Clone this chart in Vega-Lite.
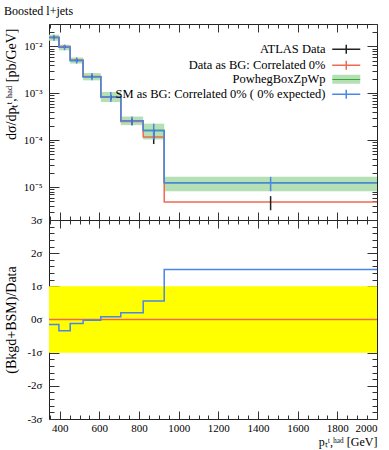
{
  "$schema": "https://vega.github.io/schema/vega-lite/v6.json",
  "padding": {"left": 3, "top": 4, "right": 5, "bottom": 5},
  "config": {
    "view": {"stroke": "#222", "strokeWidth": 1},
    "font": "Liberation Serif",
    "axis": {"domain": false, "grid": false, "tickColor": "#333", "tickWidth": 1, "labelFont": "Liberation Serif", "labelFontSize": 11, "labelColor": "#000", "titleFont": "Liberation Serif", "titleFontSize": 14, "titleFontWeight": "normal", "titleColor": "#000"},
    "title": {"font": "Liberation Serif", "fontSize": 12, "fontWeight": "normal", "color": "#000"}
  },
  "datasets": {
    "bins": [
      {"lo": 346, "hi": 396, "band_lo": 0.0132, "band_hi": 0.0178},
      {"lo": 396, "hi": 453, "band_lo": 0.0083, "band_hi": 0.0109},
      {"lo": 453, "hi": 518, "band_lo": 0.0043, "band_hi": 0.0058},
      {"lo": 518, "hi": 607, "band_lo": 0.00189, "band_hi": 0.0027},
      {"lo": 607, "hi": 708, "band_lo": 0.00065, "band_hi": 0.00107},
      {"lo": 708, "hi": 821, "band_lo": 0.00021, "band_hi": 0.00032},
      {"lo": 821, "hi": 927, "band_lo": 0.000104, "band_hi": 0.000226},
      {"lo": 927, "hi": 2000, "band_lo": 0.0000082, "band_hi": 0.0000166}
    ],
    "steps": [
      {"x": 346, "sm": 0.0155, "data": 0.0157},
      {"x": 396, "sm": 0.0096, "data": 0.0100},
      {"x": 453, "sm": 0.0050, "data": 0.0051},
      {"x": 518, "sm": 0.00226, "data": 0.00227},
      {"x": 607, "sm": 0.00084, "data": 0.00082},
      {"x": 708, "sm": 0.00026, "data": 0.00025},
      {"x": 821, "sm": 0.000161, "data": 0.000117},
      {"x": 927, "sm": 0.0000124, "data": 0.00000486},
      {"x": 2000, "sm": 0.0000124, "data": 0.00000486}
    ],
    "errs": [
      {"series": "ATLAS Data", "x": 371, "y": 0.0157, "lo": 0.0150, "hi": 0.0165},
      {"series": "ATLAS Data", "x": 424.5, "y": 0.0100, "lo": 0.0094, "hi": 0.0106},
      {"series": "ATLAS Data", "x": 485.5, "y": 0.0051, "lo": 0.0047, "hi": 0.0055},
      {"series": "ATLAS Data", "x": 562.5, "y": 0.00227, "lo": 0.00206, "hi": 0.00248},
      {"series": "ATLAS Data", "x": 657.5, "y": 0.00082, "lo": 0.00072, "hi": 0.00092},
      {"series": "ATLAS Data", "x": 764.5, "y": 0.00025, "lo": 0.00021, "hi": 0.00029},
      {"series": "ATLAS Data", "x": 874, "y": 0.000117, "lo": 0.000083, "hi": 0.000169},
      {"series": "ATLAS Data", "x": 1463.5, "y": 0.00000486, "lo": 0.00000323, "hi": 0.00000645},
      {"series": "SM as BG: Correlated 0% ( 0% expected)", "x": 371, "y": 0.0155, "lo": 0.0132, "hi": 0.0178},
      {"series": "SM as BG: Correlated 0% ( 0% expected)", "x": 424.5, "y": 0.0096, "lo": 0.0083, "hi": 0.0109},
      {"series": "SM as BG: Correlated 0% ( 0% expected)", "x": 485.5, "y": 0.0050, "lo": 0.0043, "hi": 0.0058},
      {"series": "SM as BG: Correlated 0% ( 0% expected)", "x": 562.5, "y": 0.00226, "lo": 0.00189, "hi": 0.0027},
      {"series": "SM as BG: Correlated 0% ( 0% expected)", "x": 657.5, "y": 0.00084, "lo": 0.00065, "hi": 0.00107},
      {"series": "SM as BG: Correlated 0% ( 0% expected)", "x": 764.5, "y": 0.00026, "lo": 0.00021, "hi": 0.00032},
      {"series": "SM as BG: Correlated 0% ( 0% expected)", "x": 874, "y": 0.000161, "lo": 0.000104, "hi": 0.000226},
      {"series": "SM as BG: Correlated 0% ( 0% expected)", "x": 1463.5, "y": 0.0000124, "lo": 0.0000082, "hi": 0.0000166}
    ],
    "ratio": [
      {"x": 346, "sm": -0.15, "data": 0},
      {"x": 396, "sm": -0.34, "data": 0},
      {"x": 453, "sm": -0.12, "data": 0},
      {"x": 518, "sm": -0.02, "data": 0},
      {"x": 607, "sm": 0.08, "data": 0},
      {"x": 708, "sm": 0.2, "data": 0},
      {"x": 821, "sm": 0.56, "data": 0},
      {"x": 927, "sm": 1.51, "data": 0},
      {"x": 2000, "sm": 1.51, "data": 0}
    ],
    "sigma": [{"lo": 346, "hi": 2000, "down": -1, "up": 1}]
  },
  "spacing": 0,
  "bounds": "flush",
  "vconcat": [
    {
      "width": 328,
      "height": 196,
      "title": {"text": "Boosted l+jets", "anchor": "start", "offset": -6, "baseline": "bottom"},
      "resolve": {"axis": {"x": "independent", "y": "independent"}},
      "layer": [
        {
          "data": {"name": "bins"},
          "mark": {"type": "rect", "color": "#b5dfb5"},
          "encoding": {
            "x": {"field": "lo", "type": "quantitative", "scale": {"domain": [346, 2000], "nice": false, "zero": false},
                  "axis": {"orient": "bottom", "values": [400, 600, 800, 1000, 1200, 1400, 1600, 1800, 2000], "tickSize": -8, "labels": false, "title": null}},
            "x2": {"field": "hi"},
            "y": {"field": "band_lo", "type": "quantitative", "scale": {"type": "log", "domain": [0.000002, 0.03], "nice": false},
                  "axis": {"orient": "left", "values": [0.00001, 0.0001, 0.001, 0.01], "tickSize": -10, "labelPadding": 17,
                           "labelExpr": "datum.value > 0.005 ? '10⁻²' : datum.value > 0.0005 ? '10⁻³' : datum.value > 0.00005 ? '10⁻⁴' : '10⁻⁵'",
                           "title": "dσ/dpₜᵗ,ʰᵃᵈ [pb/GeV]", "titleAnchor": "end", "titleX": -38, "titleY": 4, "titleBaseline": "middle", "titleAngle": -90}},
            "y2": {"field": "band_hi"}
          }
        },
        {
          "data": {"name": "steps"},
          "mark": {"type": "line", "interpolate": "step-after", "color": "#3aa53a", "strokeWidth": 1.5},
          "encoding": {
            "x": {"field": "x", "type": "quantitative",
                  "axis": {"orient": "bottom", "values": [350, 450, 500, 550, 650, 700, 750, 850, 900, 950, 1050, 1100, 1150, 1250, 1300, 1350, 1450, 1500, 1550, 1650, 1700, 1750, 1850, 1900, 1950], "tickSize": -4, "labels": false, "title": null}},
            "y": {"field": "sm", "type": "quantitative",
                  "axis": {"orient": "left", "values": [0.000002, 0.000003, 0.000004, 0.000005, 0.000006, 0.000007, 0.000008, 0.000009, 0.00002, 0.00003, 0.00004, 0.00005, 0.00006, 0.00007, 0.00008, 0.00009, 0.0002, 0.0003, 0.0004, 0.0005, 0.0006, 0.0007, 0.0008, 0.0009, 0.002, 0.003, 0.004, 0.005, 0.006, 0.007, 0.008, 0.009, 0.02, 0.03], "tickSize": -5, "labels": false, "title": null}}
          }
        },
        {
          "data": {"name": "steps"},
          "mark": {"type": "line", "interpolate": "step-after", "color": "#ee6a50", "strokeWidth": 1.5},
          "encoding": {
            "x": {"field": "x", "type": "quantitative",
                  "axis": {"orient": "top", "values": [400, 600, 800, 1000, 1200, 1400, 1600, 1800, 2000], "tickSize": -8, "labels": false, "title": null}},
            "y": {"field": "data", "type": "quantitative",
                  "axis": {"orient": "right", "values": [0.00001, 0.0001, 0.001, 0.01], "tickSize": -10, "labels": false, "title": null}}
          }
        },
        {
          "data": {"name": "steps"},
          "mark": {"type": "line", "interpolate": "step-after", "color": "#4a86e8", "strokeWidth": 1.5},
          "encoding": {
            "x": {"field": "x", "type": "quantitative",
                  "axis": {"orient": "top", "values": [350, 450, 500, 550, 650, 700, 750, 850, 900, 950, 1050, 1100, 1150, 1250, 1300, 1350, 1450, 1500, 1550, 1650, 1700, 1750, 1850, 1900, 1950], "tickSize": -4, "labels": false, "title": null}},
            "y": {"field": "sm", "type": "quantitative",
                  "axis": {"orient": "right", "values": [0.000002, 0.000003, 0.000004, 0.000005, 0.000006, 0.000007, 0.000008, 0.000009, 0.00002, 0.00003, 0.00004, 0.00005, 0.00006, 0.00007, 0.00008, 0.00009, 0.0002, 0.0003, 0.0004, 0.0005, 0.0006, 0.0007, 0.0008, 0.0009, 0.002, 0.003, 0.004, 0.005, 0.006, 0.007, 0.008, 0.009, 0.02, 0.03], "tickSize": -5, "labels": false, "title": null}}
          }
        },
        {
          "data": {"name": "errs"},
          "mark": {"type": "rule", "strokeWidth": 1.5},
          "encoding": {
            "x": {"field": "x", "type": "quantitative", "axis": null},
            "y": {"field": "lo", "type": "quantitative", "axis": null},
            "y2": {"field": "hi"},
            "color": {"field": "series", "type": "nominal",
                      "scale": {"domain": ["ATLAS Data", "Data as BG: Correlated 0%", "PowhegBoxZpWp", "SM as BG: Correlated 0% ( 0% expected)"], "range": ["#222222", "#ee6a50", "#3aa53a", "#4a86e8"]},
                      "legend": {
                        "orient": "top-right", "offset": 13, "title": " ", "titleFontSize": 4, "titlePadding": 2, "padding": 0,
                        "symbolType": "M-2.8,0H2.8M0,-0.9V0.9",
                        "labelAlign": "right", "labelOffset": -27, "symbolSize": 100, "symbolStrokeWidth": 1.5,
                        "labelFont": "Liberation Serif", "labelFontSize": 12.5, "labelColor": "#000", "labelLimit": 400, "rowPadding": 0,
                        "encode": {"symbols": {"update": {
                          "shape": {"signal": "datum.value === 'PowhegBoxZpWp' ? 'M-2.8,-0.9H2.8V0.9H-2.8Z' : 'M-2.8,0H2.8M0,-0.9V0.9'"},
                          "fill": {"signal": "datum.value === 'PowhegBoxZpWp' ? {gradient: 'linear', x1: 0, y1: 0, x2: 0, y2: 1, stops: [{offset: 0, color: '#b5dfb5'}, {offset: 0.42, color: '#b5dfb5'}, {offset: 0.42, color: '#3aa53a'}, {offset: 0.58, color: '#3aa53a'}, {offset: 0.58, color: '#b5dfb5'}, {offset: 1, color: '#b5dfb5'}]} : 'transparent'"},
                          "strokeWidth": {"signal": "datum.value === 'PowhegBoxZpWp' ? 0 : 1.5"}
                        }}}
                      }}
          }
        }
      ]
    },
    {
      "width": 328,
      "height": 199,
      "resolve": {"axis": {"x": "independent", "y": "independent"}},
      "layer": [
        {
          "data": {"name": "sigma"},
          "mark": {"type": "rect", "color": "#ffff00"},
          "encoding": {
            "x": {"field": "lo", "type": "quantitative", "scale": {"domain": [346, 2000], "nice": false, "zero": false},
                  "axis": {"orient": "bottom", "values": [400, 600, 800, 1000, 1200, 1400, 1600, 1800, 2000], "tickSize": -8, "labelPadding": 11, "format": "d",
                           "title": "pₜᵗ,ʰᵃᵈ [GeV]", "titleAnchor": "end", "titleFontSize": 12, "titlePadding": 3}},
            "x2": {"field": "hi"},
            "y": {"field": "down", "type": "quantitative", "scale": {"domain": [-3, 3], "nice": false, "zero": false},
                  "axis": {"orient": "left", "values": [-3, -2, -1, 0, 1, 2, 3], "tickSize": -10, "labelPadding": 17,
                           "labelExpr": "datum.value + 'σ'", "title": "(Bkgd+BSM)/Data", "titleX": -38, "titleBaseline": "middle", "titleAngle": -90}},
            "y2": {"field": "up"}
          }
        },
        {
          "data": {"name": "ratio"},
          "mark": {"type": "line", "interpolate": "step-after", "color": "#ee6a50", "strokeWidth": 1.5},
          "encoding": {
            "x": {"field": "x", "type": "quantitative",
                  "axis": {"orient": "bottom", "values": [350, 450, 500, 550, 650, 700, 750, 850, 900, 950, 1050, 1100, 1150, 1250, 1300, 1350, 1450, 1500, 1550, 1650, 1700, 1750, 1850, 1900, 1950], "tickSize": -4, "labels": false, "title": null}},
            "y": {"field": "data", "type": "quantitative",
                  "axis": {"orient": "left", "values": [-2.8, -2.6, -2.4, -2.2, -1.8, -1.6, -1.4, -1.2, -0.8, -0.6, -0.4, -0.2, 0.2, 0.4, 0.6, 0.8, 1.2, 1.4, 1.6, 1.8, 2.2, 2.4, 2.6, 2.8], "tickSize": -5, "labels": false, "title": null}}
          }
        },
        {
          "data": {"name": "ratio"},
          "mark": {"type": "line", "interpolate": "step-after", "color": "#4a86e8", "strokeWidth": 1.5},
          "encoding": {
            "x": {"field": "x", "type": "quantitative",
                  "axis": {"orient": "top", "values": [400, 600, 800, 1000, 1200, 1400, 1600, 1800, 2000], "tickSize": -8, "labels": false, "title": null}},
            "y": {"field": "sm", "type": "quantitative",
                  "axis": {"orient": "right", "values": [-3, -2, -1, 0, 1, 2, 3], "tickSize": -10, "labels": false, "title": null}}
          }
        },
        {
          "data": {"name": "ratio"},
          "mark": {"type": "point", "opacity": 0},
          "encoding": {
            "x": {"field": "x", "type": "quantitative",
                  "axis": {"orient": "top", "values": [350, 450, 500, 550, 650, 700, 750, 850, 900, 950, 1050, 1100, 1150, 1250, 1300, 1350, 1450, 1500, 1550, 1650, 1700, 1750, 1850, 1900, 1950], "tickSize": -4, "labels": false, "title": null}},
            "y": {"field": "sm", "type": "quantitative",
                  "axis": {"orient": "right", "values": [-2.8, -2.6, -2.4, -2.2, -1.8, -1.6, -1.4, -1.2, -0.8, -0.6, -0.4, -0.2, 0.2, 0.4, 0.6, 0.8, 1.2, 1.4, 1.6, 1.8, 2.2, 2.4, 2.6, 2.8], "tickSize": -5, "labels": false, "title": null}}
          }
        }
      ]
    }
  ]
}
